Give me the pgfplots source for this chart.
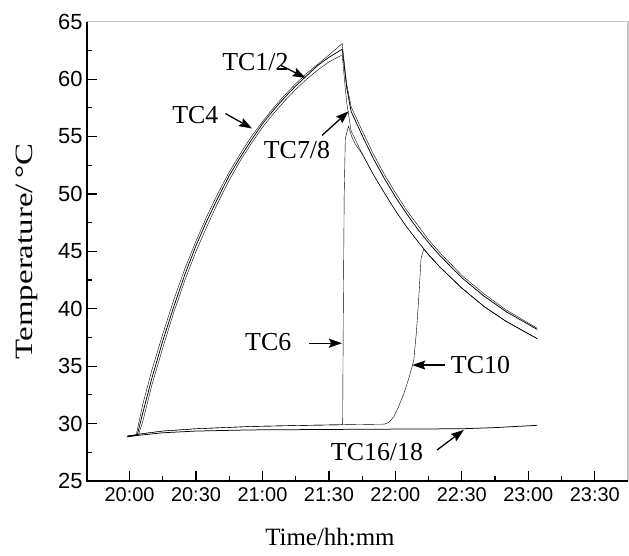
\documentclass[border=0pt]{standalone}
\usepackage{fontspec}
\setmainfont{Liberation Serif}
\setsansfont{Liberation Sans}
\usepackage{pgfplots}
\pgfplotsset{compat=1.18}
\usetikzlibrary{arrows.meta}
\begin{document}
\begin{tikzpicture}
\begin{axis}[
  at={(0,0)}, anchor=south west,
  scale only axis, width=541bp, height=459.3bp,
  xmin=-19.2, xmax=225, ymin=25, ymax=65,
  axis line style={draw=none},
  xtick={0,30,...,210},
  xticklabels={20:00,20:30,21:00,21:30,22:00,22:30,23:00,23:30},
  ytick={25,30,...,65},
  minor x tick num=1, minor y tick num=1,
  xtick pos=bottom, ytick pos=left,
  tick align=inside,
  major tick length=10bp, minor tick length=5bp,
  every tick/.style={black, line width=1.2bp},
  /pgf/number format/assume math mode=true,
  xticklabel style={font=\sffamily\fontsize{20}{20}\selectfont, yshift=-3bp},
  yticklabel style={font=\sffamily\fontsize{22}{22}\selectfont, xshift=-1bp},
  xlabel={Time/hh:mm},
  ylabel={\scalebox{1.32}[1]{Temperature/\,°C}},
  xlabel style={font=\rmfamily\fontsize{25}{25}\selectfont, at={(rel axis cs:0.449,0)}, anchor=north, yshift=-44bp},
  ylabel style={font=\rmfamily\fontsize{25}{25}\selectfont, at={(rel axis cs:0,0.5)}, anchor=south, yshift=46bp},
  clip=false,
  cycle list={{black, line width=0.75bp, mark=none, solid}},
]
% TC1/2
\addplot coordinates {(-1,28.9) (3,29.0) (6,31.7) (10,34.6) (15,37.8) (20,40.8) (25,43.5) (30,45.9) (35,48.1) (40,50.1) (45,51.9) (50,53.5) (55,55.0) (60,56.3) (65,57.5) (70,58.6) (75,59.6) (80,60.5) (85,61.3) (90,62.1) (96,63.1) (97,61.3) (98,59.6) (100,57.6) (105,55.5) (110,53.5) (115,51.7) (120,50.1) (125,48.6) (130,47.3) (135,46.0) (140,44.9) (150,42.9) (160,41.3) (170,39.9) (184,38.3)};
% TC4
\addplot coordinates {(-1,28.9) (3.5,29.0) (6,30.95) (10,33.9) (15,37.2) (20,40.2) (25,43.0) (30,45.5) (35,47.7) (40,49.7) (45,51.6) (50,53.2) (55,54.7) (60,56.1) (65,57.3) (70,58.4) (75,59.4) (80,60.3) (85,61.2) (90,61.9) (96,62.6) (97,61.0) (98,59.3) (100,57.2) (105,55.1) (110,53.1) (115,51.35) (120,49.75) (125,48.3) (130,46.95) (135,45.75) (140,44.65) (150,42.7) (160,41.1) (170,39.75) (184,38.2)};
% TC7/8
\addplot coordinates {(-1,28.9) (4,29.0) (6,30.2) (10,33.3) (15,36.6) (20,39.7) (25,42.5) (30,45.0) (35,47.2) (40,49.3) (45,51.2) (50,52.9) (55,54.4) (60,55.8) (65,57.0) (70,58.1) (75,59.1) (80,60.0) (85,60.8) (90,61.5) (96,62.1) (97,60.0) (98,58.0) (100,55.5) (105,53.5) (110,51.7) (115,50.1) (120,48.55) (125,47.15) (130,45.9) (135,44.7) (140,43.65) (150,41.8) (160,40.2) (170,38.9) (184,37.4)};
% TC6
\addplot coordinates {(-1,28.9) (5,29.1) (15,29.35) (30,29.55) (55,29.75) (80,29.85) (96.2,29.9) (96.5,40) (96.9,50) (97.4,54.8) (98.8,55.9) (100.3,55.0) (102,54.3) (105,53.5) (110,51.7) (115,50.1) (120,48.55) (125,47.15) (130,45.9) (135,44.7) (140,43.65) (150,41.8) (160,40.2) (170,38.9) (184,37.4)};
% TC10
\addplot coordinates {(-1,28.9) (5,29.1) (15,29.35) (30,29.55) (55,29.75) (80,29.85) (96,29.9) (115,29.95) (117,30.1) (119.3,30.6) (121.5,31.5) (123.8,32.6) (126,33.9) (128.3,35.5) (129.5,38.0) (130.5,40.8) (131.6,44.4) (132.8,45.2) (135,44.7) (140,43.65) (150,41.8) (160,40.2) (170,38.9) (184,37.4)};
% TC16/18
\addplot coordinates {(-1,28.85) (5,29.0) (15,29.2) (30,29.35) (55,29.45) (100,29.5) (150,29.55) (165,29.65) (184,29.85)};
% frame
\draw[gray!45, line width=1.3bp] (rel axis cs:0,1) -- (rel axis cs:1,1) -- (rel axis cs:1,0);
\draw[black, line width=1.6bp] (rel axis cs:0,1) -- (rel axis cs:0,0) -- (rel axis cs:1,0);
% labels
\tikzset{lab/.style={font=\rmfamily\fontsize{26}{26}\selectfont, inner sep=0pt},
  arr/.style={-{Stealth[length=13bp,width=9bp,inset=2bp]}, line width=1.3bp, black}}
\node[lab] at (axis cs:56.8,61.5) {TC1/2};
\draw[arr] (axis cs:68.3,61.2) -- (axis cs:79.5,60.1);
\node[lab] at (axis cs:29.7,56.9) {TC4};
\draw[arr] (axis cs:43.3,57.0) -- (axis cs:55.3,55.7);
\node[lab] at (axis cs:75.6,53.8) {TC7/8};
\draw[arr] (axis cs:86.9,55.1) -- (axis cs:98.9,57.2);
\node[lab] at (axis cs:62.6,37.1) {TC6};
\draw[arr] (axis cs:80.9,37.0) -- (axis cs:95.9,37.0);
\node[lab] at (axis cs:158.4,35.1) {TC10};
\draw[arr] (axis cs:142.6,35.1) -- (axis cs:127.6,35.1);
\node[lab] at (axis cs:111.7,27.55) {TC16/18};
\draw[arr] (axis cs:138.8,27.7) -- (axis cs:150.9,29.45);
\end{axis}
\pgfresetboundingbox
\path[use as bounding box] (-87bp,-75bp) rectangle (542bp,481bp);
\end{tikzpicture}
\end{document}
